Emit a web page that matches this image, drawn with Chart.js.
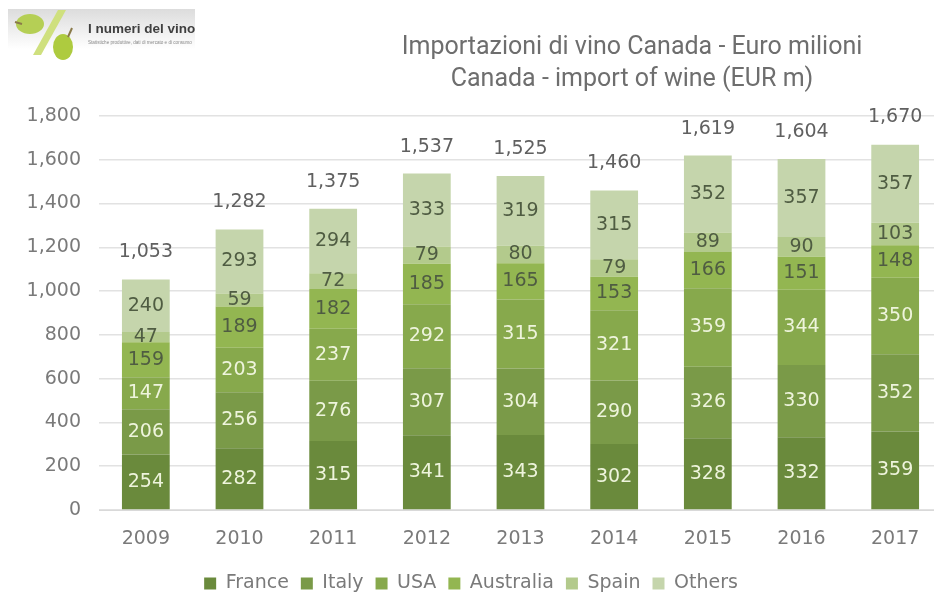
<!DOCTYPE html>
<html>
<head>
<meta charset="utf-8">
<title>Importazioni di vino Canada</title>
<script src="https://cdn.jsdelivr.net/npm/chart.js@4"></script>
<style>
    html, body { margin: 0; padding: 0; background: #fff; overflow: hidden; width: 934px; height: 592px; }
    #wrap { position: absolute; left: 0; top: 0; width: 950px; height: 592px; overflow: hidden; }
    #logo { position: absolute; left: 8px; top: 9px; width: 187px; height: 40px; background: linear-gradient(#dcdcdc, #fff); }
    #logo svg { position: absolute; left: 0; top: 0; }
    #logo b { position: absolute; left: 80px; top: 12px; font: bold 13.5px "Liberation Sans", sans-serif; color: #3f3f3f; white-space: nowrap; }
    #logo span { position: absolute; left: 80px; top: 31px; font: 4.6px "Liberation Sans", sans-serif; color: #8a8a8a; white-space: nowrap; }
    #title { position: absolute; left: 340px; top: 30px; width: 584px; text-align: center; color: #6e6e6e; font: 25px/32px Roboto, sans-serif; }
</style>
</head>
<body>
<div id="wrap">
    <canvas id="chart" width="950" height="603"></canvas>
    <div id="logo">
        <svg width="80" height="56" viewBox="0 0 80 56">
            <polygon points="50,1 58,1 33,46 25,46" fill="#cfe07e"/>
            <ellipse cx="22" cy="15" rx="14" ry="10" fill="#b5cf55"/>
            <ellipse cx="55" cy="38" rx="10" ry="13" fill="#aecb3f"/>
            <path d="M7 13 L14 15" stroke="#8a7a4a" stroke-width="2"/>
            <path d="M60 28 L64 19" stroke="#8a7a4a" stroke-width="2"/>
        </svg>
        <b>I numeri del vino</b>
        <span>Statistiche produttive, dati di mercato e di consumo</span>
    </div>
    <div id="title">Importazioni di vino Canada - Euro milioni<br>Canada - import of wine (EUR m)</div>
</div>
<script>
const years = ['2009', '2010', '2011', '2012', '2013', '2014', '2015', '2016', '2017'];
const france = [254, 282, 315, 341, 343, 302, 328, 332, 359];
const italy = [206, 256, 276, 307, 304, 290, 326, 330, 352];
const usa = [147, 203, 237, 292, 315, 321, 359, 344, 350];
const australia = [159, 189, 182, 185, 165, 153, 166, 151, 148];
const spain = [47, 59, 72, 79, 80, 79, 89, 90, 103];
const others = [240, 293, 294, 333, 319, 315, 352, 357, 357];
const totals = [1053, 1282, 1375, 1537, 1525, 1460, 1619, 1604, 1670];

const LIGHT = '#eef4dc';
const DARK = '#4f5c42';
const GREY = '#7a7a7a';
const FONT = '"DejaVu Sans", sans-serif';
const FONT_SIZE = 19;

function barSet(label, data, color, labelColor) {
    return { type: 'bar', label, data, backgroundColor: color, stack: 'wine', barPercentage: 0.51, categoryPercentage: 1, labelColor };
}

// scrive i valori dentro le barre e il totale sopra ogni colonna
const valueLabels = {
    id: 'valueLabels',
    afterDatasetsDraw(chart) {
        const ctx = chart.ctx;
        ctx.save();
        ctx.textAlign = 'center';
        ctx.textBaseline = 'middle';
        ctx.font = FONT_SIZE + 'px ' + FONT;
        chart.data.datasets.forEach((ds, i) => {
            chart.getDatasetMeta(i).data.forEach((el, j) => {
                const text = ds.data[j].toLocaleString('en-US');
                if (ds.type === 'line') {
                    ctx.fillStyle = '#606060';
                    ctx.fillText(text, el.x, el.y - 27);
                } else {
                    ctx.fillStyle = ds.labelColor;
                    ctx.fillText(text, el.x, (el.y + el.base) / 2);
                }
            });
        });
        ctx.restore();
    }
};

new Chart(document.getElementById('chart'), {
    data: {
        labels: years,
        datasets: [
            barSet('France', france, '#6a8a3c', LIGHT),
            barSet('Italy', italy, '#7a9a48', LIGHT),
            barSet('USA', usa, '#87a94c', LIGHT),
            barSet('Australia', australia, '#93b651', DARK),
            barSet('Spain', spain, '#b3ca8c', DARK),
            barSet('Others', others, '#c5d5ac', DARK),
            { type: 'line', label: 'Total', data: totals, stack: 'total', showLine: false, pointRadius: 0 }
        ]
    },
    options: {
        responsive: false,
        animation: false,
        layout: { padding: { top: 116, left: 0, right: 8, bottom: 0 } },
        plugins: {
            tooltip: { enabled: false },
            legend: {
                position: 'bottom',
                align: 'center',
                labels: {
                    filter: item => item.text !== 'Total',
                    boxWidth: 12, boxHeight: 12, padding: 12,
                    color: GREY,
                    font: { family: FONT, size: FONT_SIZE }
                }
            }
        },
        scales: {
            x: {
                stacked: true,
                afterFit: scale => { scale.height = 52; },
                grid: { display: false },
                border: { color: '#d9d9d9' },
                ticks: { color: GREY, font: { family: FONT, size: FONT_SIZE }, padding: 10, maxRotation: 0 }
            },
            y: {
                stacked: true,
                min: 0, max: 1800,
                afterFit: scale => { scale.width = 99; },
                grid: { color: '#e2e2e2', lineWidth: 1.5, drawTicks: false },
                border: { display: false },
                ticks: { stepSize: 200, color: GREY, padding: 18, font: { family: FONT, size: FONT_SIZE }, callback: v => v.toLocaleString('en-US') }
            }
        }
    },
    plugins: [valueLabels]
});
</script>
</body>
</html>
